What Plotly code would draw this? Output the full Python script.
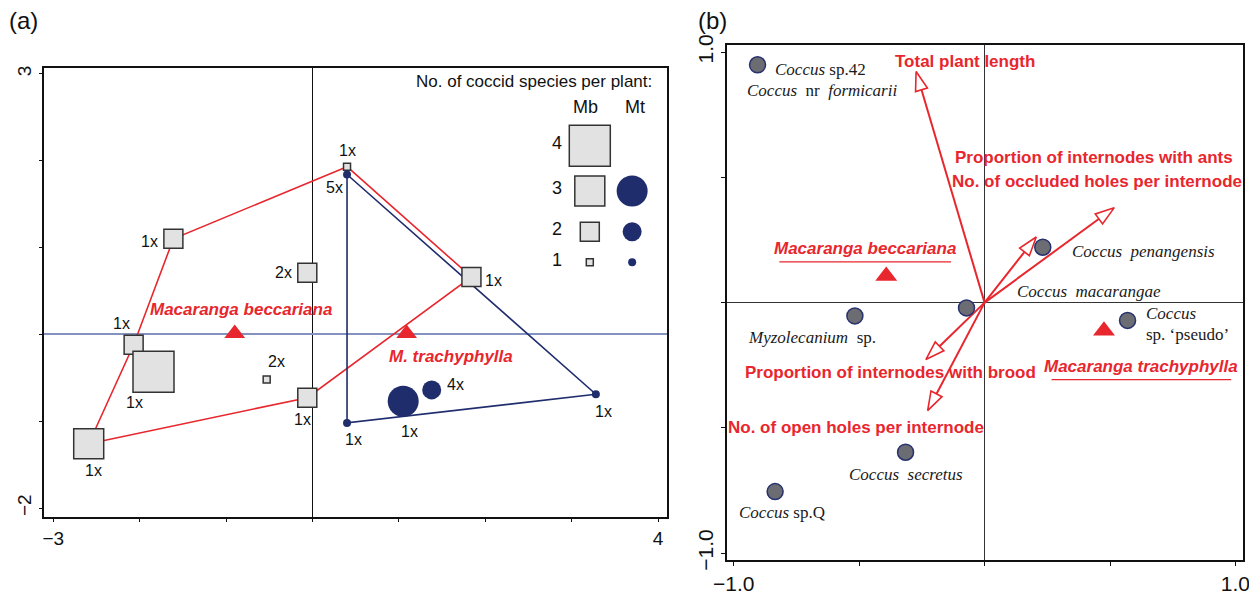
import plotly.graph_objects as go

# ---------------- data: panel (a) ----------------
mb_x = [0.40, -1.61, -0.06, 1.84, -2.07, -1.84, -0.53, -0.06, -2.59]
mb_y = [1.93, 1.10, 0.71, 0.66, -0.12, -0.43, -0.52, -0.73, -1.26]
mb_n = [1, 2, 2, 2, 2, 4, 1, 2, 3]
mb_count = ["1x", "1x", "2x", "1x", "1x", "1x", "2x", "1x", "1x"]
mb_hull = [0, 3, 7, 8, 4, 1, 0]

mt_x = [0.40, 0.40, 3.28, 1.05, 1.38]
mt_y = [1.84, -1.02, -0.69, -0.77, -0.64]
mt_n = [1, 1, 1, 3, 2]
mt_count = ["5x", "1x", "1x", "1x", "4x"]
mt_hull = [0, 2, 1, 0]

plant_a = ["Macaranga beccariana", "M. trachyphylla"]
plant_a_x = [-0.90, 1.09]
plant_a_y = [0.01, 0.01]

legend_n = [4, 3, 2, 1]

a_xticks = [-3, -2, -1, 0, 1, 2, 3, 4]
a_xtext = ["\u22123", "", "", "", "", "", "", "4"]
a_yticks = [-2, -1, 0, 1, 2, 3]
a_ytext = ["\u22122", "", "", "", "", "3"]

# ---------------- data: panel (b) ----------------
sp_x = [-0.905, 0.232, -0.072, -0.517, 0.570, -0.315, -0.835]
sp_y = [0.949, 0.221, -0.021, -0.053, -0.071, -0.597, -0.754]

var_names = ["Total plant length",
             "Proportion of internodes with ants",
             "No. of occluded holes per internode",
             "Proportion of internodes with brood",
             "No. of open holes per internode"]
var_x = [-0.273, 0.206, 0.517, -0.234, -0.227]
var_y = [0.922, 0.262, 0.379, -0.227, -0.431]

plant_b = ["Macaranga beccariana", "Macaranga trachyphylla"]
plant_b_x = [-0.392, 0.476]
plant_b_y = [0.106, -0.112]

b_ticks = [-1.0, -0.5, 0.0, 0.5, 1.0]
b_text = ["\u22121.0", "", "", "", "1.0"]

# ---------------- styles / layout helpers ----------------
OFF = 8                      # page body margin
W, H = 1257 - OFF, 596 - OFF


def px(x):
    return (x - OFF) / W


def py(y):
    return 1 - (y - OFF) / H


RED = "#e8262d"
NAVY = "#1f2d6d"
SQ_FILL = "#e2e2e2"
SQ_LINE = "#333333"
SANS = "Liberation Sans, Arial, Helvetica, sans-serif"
SERIF = "Liberation Serif, Times New Roman, serif"
sq_size = {1: 7, 2: 19, 3: 30, 4: 41}
ci_size = {1: 8, 2: 19, 3: 31}

# label offsets (px) for panel (a) point labels
mb_off = [(0, 16), (-24, -3), (-24, 0), (22, -3), (-12, 21), (-19, -31), (10, 18), (-5, -22), (5, -27)]
mt_off = [(-13, -13), (6, -17), (8, -17), (6, -30), (24, 5)]

fig = go.Figure()

# ----- panel (a) -----
fig.add_trace(go.Scatter(x=[mb_x[i] for i in mb_hull], y=[mb_y[i] for i in mb_hull],
                         mode="lines", line=dict(color=RED, width=1.6),
                         xaxis="x", yaxis="y", hoverinfo="skip"))
fig.add_trace(go.Scatter(x=[mt_x[i] for i in mt_hull], y=[mt_y[i] for i in mt_hull],
                         mode="lines", line=dict(color=NAVY, width=1.6),
                         xaxis="x", yaxis="y", hoverinfo="skip"))
fig.add_trace(go.Scatter(x=mb_x, y=mb_y, mode="markers",
                         marker=dict(symbol="square", size=[sq_size[n] for n in mb_n], opacity=1,
                                     color=SQ_FILL, line=dict(color=SQ_LINE, width=1.5)),
                         xaxis="x", yaxis="y"))
fig.add_trace(go.Scatter(x=mt_x, y=mt_y, mode="markers",
                         marker=dict(symbol="circle", size=[ci_size[n] for n in mt_n], opacity=1,
                                     color=NAVY, line=dict(width=0)),
                         xaxis="x", yaxis="y"))
fig.add_trace(go.Scatter(x=plant_a_x, y=plant_a_y, mode="markers",
                         marker=dict(symbol="triangle-up", size=18, color=RED, opacity=1,
                                     line=dict(width=0)),
                         xaxis="x", yaxis="y"))

# legend markers (panel a)
leg_sq_x, leg_ci_x, leg_num_x = 3.21, 3.70, 2.83
leg_row_y = {4: 2.17, 3: 1.65, 2: 1.18, 1: 0.83}
fig.add_trace(go.Scatter(x=[leg_sq_x] * len(legend_n), y=[leg_row_y[n] for n in legend_n],
                         mode="markers",
                         marker=dict(symbol="square", size=[sq_size[n] for n in legend_n], opacity=1,
                                     color=SQ_FILL, line=dict(color=SQ_LINE, width=1.5)),
                         xaxis="x", yaxis="y"))
ci_rows = [n for n in legend_n if n in ci_size]
fig.add_trace(go.Scatter(x=[leg_ci_x] * len(ci_rows), y=[leg_row_y[n] for n in ci_rows],
                         mode="markers",
                         marker=dict(symbol="circle", size=[ci_size[n] for n in ci_rows], opacity=1,
                                     color=NAVY, line=dict(width=0)),
                         xaxis="x", yaxis="y"))

ann = []
lab_font = dict(family=SANS, size=16, color="#111111")
for x, y, t, (dx, dy) in zip(mb_x, mb_y, mb_count, mb_off):
    ann.append(dict(x=x, y=y, xref="x", yref="y", text=t, showarrow=False,
                    xshift=dx, yshift=dy, font=lab_font))
for x, y, t, (dx, dy) in zip(mt_x, mt_y, mt_count, mt_off):
    ann.append(dict(x=x, y=y, xref="x", yref="y", text=t, showarrow=False,
                    xshift=dx, yshift=dy, font=lab_font))
# plant labels panel (a)
ann.append(dict(x=plant_a_x[0], y=plant_a_y[0], xref="x", yref="y",
                text="<b><i>" + plant_a[0] + "</i></b>", showarrow=False,
                xshift=6, yshift=24, font=dict(family=SANS, size=17, color=RED)))
ann.append(dict(x=plant_a_x[1], y=plant_a_y[1], xref="x", yref="y",
                text="<b><i>" + plant_a[1] + "</i></b>", showarrow=False,
                xshift=44, yshift=-23, font=dict(family=SANS, size=17, color=RED)))
# legend text
ann.append(dict(x=3.95, y=2.91, xref="x", yref="y", text="No. of coccid species per plant:",
                showarrow=False, xanchor="right", font=dict(family=SANS, size=17, color="#111")))
ann.append(dict(x=leg_sq_x - 0.05, y=2.62, xref="x", yref="y", text="Mb", showarrow=False,
                font=dict(family=SANS, size=18, color="#111")))
ann.append(dict(x=leg_ci_x + 0.03, y=2.62, xref="x", yref="y", text="Mt", showarrow=False,
                font=dict(family=SANS, size=18, color="#111")))
for n in legend_n:
    ann.append(dict(x=leg_num_x, y=leg_row_y[n] + 0.03, xref="x", yref="y", text=str(n),
                    showarrow=False, font=dict(family=SANS, size=18, color="#111")))

# ----- panel (b) -----
for vx, vy in zip(var_x, var_y):
    fig.add_trace(go.Scatter(x=[0, vx], y=[0, vy], mode="lines+markers",
                             line=dict(color=RED, width=2),
                             marker=dict(symbol=["circle", "arrow"], size=[0, 20], opacity=1,
                                         color="white", angleref="previous",
                                         line=dict(color=RED, width=1.6)),
                             xaxis="x2", yaxis="y2", hoverinfo="skip"))
fig.add_trace(go.Scatter(x=sp_x, y=sp_y, mode="markers",
                         marker=dict(symbol="circle", size=16, color="#6c6c73", opacity=1,
                                     line=dict(color="#27326e", width=1.5)),
                         xaxis="x2", yaxis="y2"))
fig.add_trace(go.Scatter(x=plant_b_x, y=plant_b_y, mode="markers",
                         marker=dict(symbol="triangle-up", size=19, color=RED, opacity=1,
                                     line=dict(width=0)),
                         xaxis="x2", yaxis="y2"))

sp_font = dict(family=SERIF, size=17, color="#1a1a1a")
sp_labels = [
    (0, "<i>Coccus</i> sp.42", "left", 15, -5),
    (0, "<i>Coccus</i>  nr  <i>formicarii</i>", "left", -13, -26),
    (1, "<i>Coccus  penangensis</i>", "left", 27, -4),
    (2, "<i>Coccus  macarangae</i>", "left", 48, 16),
    (3, "<i>Myzolecanium</i>  sp.", "center", -43, -22),
    (4, "<i>Coccus</i>", "left", 16, 7),
    (4, "sp. \u2018pseudo\u2019", "left", 16, -14),
    (5, "<i>Coccus  secretus</i>", "center", 0, -22),
    (6, "<i>Coccus</i> sp.Q", "center", 7, -21),
]
for i, t, xa, dx, dy in sp_labels:
    ann.append(dict(x=sp_x[i], y=sp_y[i], xref="x2", yref="y2", text=t, showarrow=False,
                    xanchor=xa, xshift=dx, yshift=dy, font=sp_font))

var_lab_pos = [(-0.078, 0.964), (0.437, 0.578), (0.447, 0.485), (-0.374, -0.279), (-0.512, -0.499)]
for name, (lx, ly) in zip(var_names, var_lab_pos):
    ann.append(dict(x=lx, y=ly, xref="x2", yref="y2", text="<b>" + name + "</b>",
                    showarrow=False, font=dict(family=SANS, size=17, color=RED)))

plant_b_lab = [(-0.476, 0.217), (0.625, -0.253)]
shapes = []
for name, (lx, ly) in zip(plant_b, plant_b_lab):
    ann.append(dict(x=lx, y=ly, xref="x2", yref="y2", text="<b><i>" + name + "</i></b>",
                    showarrow=False, font=dict(family=SANS, size=17, color=RED)))
for (lx, ly), half in zip(plant_b_lab, [0.342, 0.358]):
    shapes.append(dict(type="line", xref="x2", yref="y2", x0=lx - half, x1=lx + half,
                       y0=ly - 0.054, y1=ly - 0.054, line=dict(color=RED, width=1.2)))

# panel letters
ann.append(dict(x=px(23), y=py(21), xref="paper", yref="paper", text="(a)",
                xanchor="center", yanchor="middle",
                showarrow=False, font=dict(family=SANS, size=24, color="#111")))
ann.append(dict(x=px(712), y=py(21), xref="paper", yref="paper", text="(b)",
                xanchor="center", yanchor="middle",
                showarrow=False, font=dict(family=SANS, size=24, color="#111")))

axis_common = dict(showgrid=False, showline=True, mirror=True, linecolor="#111",
                   linewidth=1.5, ticks="outside", ticklen=4, tickcolor="#111",
                   tickmode="array", automargin=False)

fig.update_layout(
    template="none",
    width=W, height=H,
    margin=dict(l=0, r=0, t=0, b=0, pad=0),
    paper_bgcolor="white", plot_bgcolor="white",
    showlegend=False,
    xaxis=dict(domain=[px(44.3), px(667.3)], range=[-3.104, 4.107],
               tickvals=a_xticks, ticktext=a_xtext, zeroline=True, zerolinecolor="#111",
               zerolinewidth=1, tickfont=dict(family=SANS, size=19, color="#111"),
               anchor="y", **axis_common),
    yaxis=dict(domain=[py(516.7), py(67.7)], range=[-2.10, 3.07],
               tickvals=a_yticks, ticktext=a_ytext, zeroline=True, zerolinecolor="#8592bf",
               zerolinewidth=1.5, tickangle=-90,
               tickfont=dict(family=SANS, size=19, color="#111"),
               anchor="x", **axis_common),
    xaxis2=dict(domain=[px(726.7), px(1242.7)], range=[-1.028, 1.029],
                tickvals=b_ticks, ticktext=b_text, zeroline=True, zerolinecolor="#333",
                zerolinewidth=1, tickfont=dict(family=SANS, size=21, color="#111"),
                anchor="y2", **axis_common),
    yaxis2=dict(domain=[py(560), py(45)], range=[-1.027, 1.028],
                tickvals=b_ticks, ticktext=b_text, zeroline=True, zerolinecolor="#333",
                zerolinewidth=1, tickangle=-90,
                tickfont=dict(family=SANS, size=21, color="#111"),
                anchor="x2", **axis_common),
    annotations=ann,
    shapes=shapes,
)

fig.write_html("out.html")
